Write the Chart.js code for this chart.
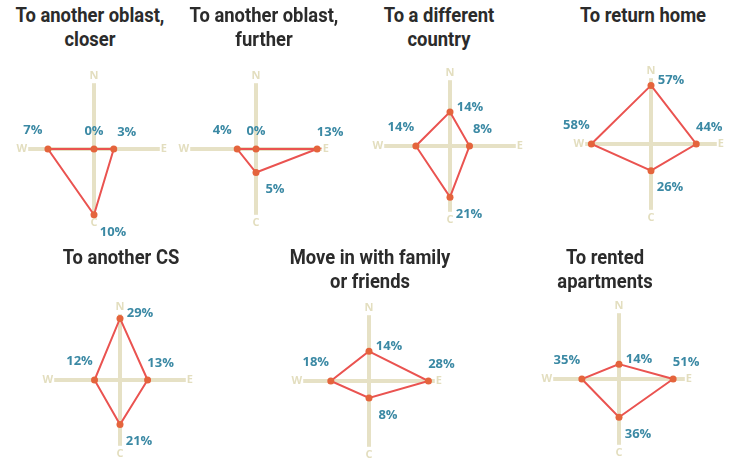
<!DOCTYPE html>
<html>
<head>
<meta charset="utf-8">
<script src="https://cdn.jsdelivr.net/npm/chart.js@4.4.0/dist/chart.umd.min.js"></script>
<style>
    body { margin: 0; background: #fff; width: 730px; height: 461px; position: relative; overflow: hidden; }
    .title { position: absolute; font-family: Roboto, sans-serif; font-weight: 700; font-size: 20px; line-height: 24px;
             color: #2b2b2b; text-align: center; white-space: nowrap; transform: translateX(-50%) scaleX(0.92); }
    canvas { position: absolute; }
</style>
</head>
<body>
<script>
const titles = [
    ["To another oblast,", "closer"],
    ["To another oblast,", "further"],
    ["To a different", "country"],
    ["To return home"],
    ["To another CS"],
    ["Move in with family", "or friends"],
    ["To rented", "apartments"],
];
const directions = ["N", "E", "C", "W"];
const north = [0, 0, 14, 57, 29, 14, 14];
const east = [3, 13, 8, 44, 13, 28, 51];
const centre = [10, 5, 21, 26, 21, 8, 36];
const west = [7, 4, 14, 58, 12, 18, 35];
const scaleMax = [10, 14, 27, 64, 31, 31, 62];

// radar centre x, y, title centre x, title top
const layout = [
    [92, 149, 90, 2.5],
    [254, 149, 264, 2.5],
    [448, 146, 439, 2.5],
    [649, 144, 643, 2.5],
    [118, 380, 121, 244.5],
    [367, 381, 370, 244.5],
    [617, 379, 605, 244.5],
];

const SIZE = 240;
const PAD = 40;

// label offsets from each point, by direction N, E, C, W
const labelOffset = [[20, -5], [13, -17], [19, 17], [-15, -19]];

const valueLabels = {
    id: "valueLabels",
    afterDatasetsDraw(chart) {
        const ctx = chart.ctx;
        const meta = chart.getDatasetMeta(0);
        const values = chart.data.datasets[0].data;
        ctx.save();
        ctx.font = "bold 13px 'Open Sans'";
        ctx.fillStyle = "#3b89a4";
        ctx.textAlign = "center";
        ctx.textBaseline = "middle";
        meta.data.forEach((pt, i) => {
            const off = values[i] === 0 ? [0, -18] : labelOffset[i];
            ctx.fillText(values[i] + "%", pt.x + off[0], pt.y + off[1]);
        });
        ctx.restore();
    },
};

titles.forEach((t, i) => {
    const [cx, cy, tx, ty] = layout[i];

    const div = document.createElement("div");
    div.className = "title";
    div.style.left = tx + "px";
    div.style.top = ty + "px";
    div.innerHTML = t.join("<br>");
    document.body.appendChild(div);

    const canvas = document.createElement("canvas");
    canvas.width = SIZE;
    canvas.height = SIZE;
    canvas.style.left = (cx - SIZE / 2) + "px";
    canvas.style.top = (cy - SIZE / 2) + "px";
    document.body.appendChild(canvas);

    new Chart(canvas.getContext("2d"), {
        type: "radar",
        data: {
            labels: directions,
            datasets: [
                {
                    data: [north[i], east[i], centre[i], west[i]],
                    borderColor: "#ea5350",
                    borderWidth: 2,
                    backgroundColor: "rgba(0,0,0,0)",
                    fill: false,
                    pointRadius: 3.5,
                    pointBackgroundColor: "#e4643c",
                    pointBorderWidth: 0,
                },
            ],
        },
        options: {
            responsive: false,
            animation: false,
            layout: { padding: PAD },
            plugins: { legend: { display: false }, tooltip: { enabled: false } },
            scales: {
                r: {
                    min: 0,
                    max: scaleMax[i],
                    ticks: { display: false },
                    grid: { display: false },
                    angleLines: { color: "#e6e1c5", lineWidth: 4 },
                    pointLabels: {
                        color: "#e3debf",
                        padding: 1,
                        font: { family: "'Open Sans'", weight: "bold", size: 11 },
                    },
                },
            },
        },
        plugins: [valueLabels],
    });
});
</script>
</body>
</html>
